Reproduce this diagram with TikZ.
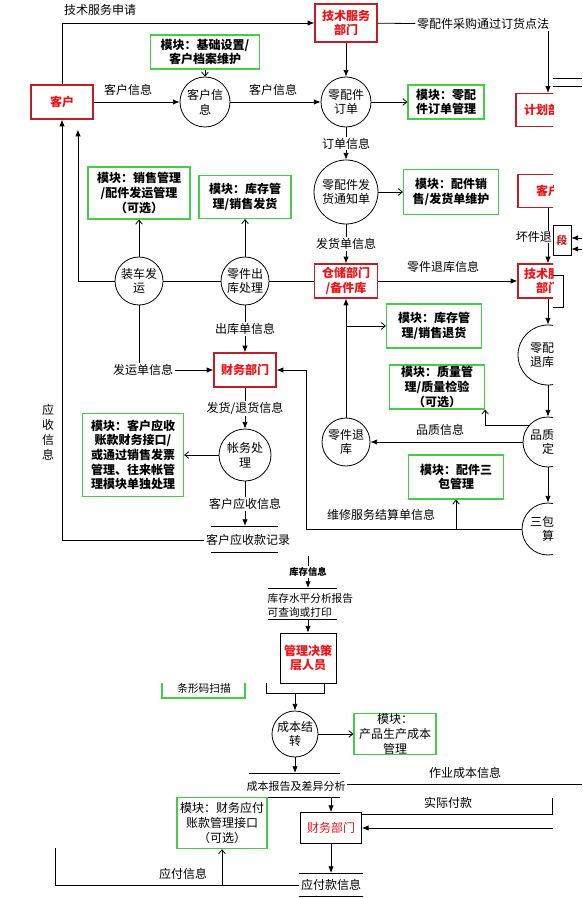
\documentclass[tikz,border=0pt]{standalone}
\usepackage{fontspec}
\setmainfont{Noto Sans CJK SC}
\usetikzlibrary{arrows.meta,calc}
\definecolor{deptred}{RGB}{190,30,40}
\definecolor{txtred}{RGB}{235,20,25}
\definecolor{modgreen}{RGB}{70,205,70}
\newcommand{\flowfont}{\fontsize{9pt}{11pt}\selectfont}
\newcommand{\smallflow}{\fontsize{8pt}{10.5pt}\selectfont}

\begin{document}
\begin{tikzpicture}[x=0.75pt,y=-0.75pt,line width=0.6pt,
  every node/.style={font=\flowfont,inner sep=1pt},
  dept/.style={draw=deptred,line width=0.9pt,text=txtred,align=center,
    font=\flowfont\bfseries,inner sep=0pt},
  mgr/.style={draw=black,line width=0.6pt,text=txtred,align=center,inner sep=0pt},
  module/.style={draw=modgreen,line width=0.9pt,align=center,
    font=\flowfont\bfseries,inner sep=0pt},
  plainmod/.style={module,font=\flowfont},
  proc/.style={circle,draw,line width=0.6pt,align=center,inner sep=0pt},
  lbl/.style={fill=white,inner sep=1pt},
  arrow/.style={-{Latex[length=5pt,width=4pt]}},
  modarrow/.style={-{Straight Barb[length=3pt,width=5pt]}}
]
\useasboundingbox (0,0) rectangle (582,898);

% right column, cut at the edge
\begin{scope}
\clip (0,0) rectangle (553,898);
\node[dept,minimum width=48pt,minimum height=24.75pt] (plan) at (548,110) {计划部门};
\node[dept,minimum width=45pt,minimum height=24.75pt] (custB) at (548,191) {客户};
\node[dept,minimum width=45pt,minimum height=25.5pt] (techB) at (548,281) {技术服务\\部门};
\node[proc,minimum size=45pt,align=left] (cRetB) at (548,355) {零配件\\退库};
\node[proc,minimum size=37.5pt] (cQual) at (548,442) {品质鉴\\定};
\node[proc,minimum size=39pt] (cWarr) at (548,529) {三包结\\算};
\draw[arrow] (custB) -- (techB);
\node[lbl,anchor=east,inner sep=0.5pt] (badLbl) at (553,237) {坏件退};
\draw[arrow] (techB) -- (cRetB);
\draw[arrow] (cRetB) -- (cQual);
\draw[arrow] (cQual) -- (cWarr);
\end{scope}
\draw (553,78) -- (582,78);
\draw (553,86) -- (582,86);
\node[draw,minimum width=13.5pt,minimum height=22.5pt,text=deptred,
  font=\smallflow\bfseries] (seg) at (562,240) {段};
\coordinate (segInA) at (582,238);
\coordinate (segInB) at (582,249);
\draw[arrow] (segInA) -- (segInA -| seg.east);
\draw[arrow] (segInB) -- (segInB -| seg.east);
\draw (553,275) -- (563,275) -- (563,307) -- (553,307);

% top rows
\node[dept,minimum width=46.5pt,minimum height=28.5pt] (techA) at (346,23) {技术服务\\部门};
\node[dept,minimum width=46.5pt,minimum height=25.5pt] (custA) at (62,102) {客户};
\node[module,minimum width=81.75pt,minimum height=25.5pt] (modBase) at (205,52) {模块：基础设置/\\客户档案维护};
\node[proc,minimum size=37.5pt] (cInfo) at (205,102) {客户信\\息};
\node[proc,minimum size=37.5pt] (cOrder) at (346,102) {零配件\\订单};
\node[module,minimum width=57pt,minimum height=25.5pt] (modOrder) at (446,102) {模块：零配\\件订单管理};
\node (purch) at (483,24) {零配件采购通过订货点法};
\node (reqLbl) at (100,10) {技术服务申请};
\node (infoLblA) at (128,90) {客户信息};
\node (infoLblB) at (273,90) {客户信息};
\draw[arrow] (custA.north) |- (techA.west);
\draw[arrow] (custA) -- (cInfo);
\draw[arrow] (cInfo) -- (cOrder);
\draw[modarrow] (modBase) -- (cInfo);
\draw[arrow] (techA) -- (cOrder);
\draw[modarrow] (cOrder) -- (modOrder);
\draw (techA) -- (purch);
\draw[arrow] (purch.south -| plan.north) -- (plan);

\node[proc,minimum size=48pt] (cNotice) at (346,192) {零配件发\\货通知单};
\node[module,minimum width=71.25pt,minimum height=33.75pt] (modShip) at (451,192) {模块：配件销\\售/发货单维护};
\draw[arrow] (cOrder) -- (cNotice) node[lbl,midway] {订单信息};
\draw[modarrow] (cNotice) -- (modShip);

% stock row
\node[dept,minimum width=47.25pt,minimum height=25.5pt] (store) at (346,281) {仓储部门\\/备件库};
\node[proc,minimum size=36pt] (cLoad) at (139,281) {装车发\\运};
\node[proc,minimum size=36pt] (cOut) at (245,281) {零件出\\库处理};
\node[module,minimum width=76.5pt,minimum height=39pt] (modSales) at (139,193) {模块：销售管理\\/配件发运管理\\（可选）};
\node[module,minimum width=69pt,minimum height=32.25pt] (modStock) at (245,197) {模块：库存管\\理/销售发货};
\coordinate (custIn) at (78,119);
\draw[arrow] (cNotice) -- (store) node[lbl,midway] {发货单信息};
\draw (cLoad) -- (cOut);
\draw (cOut) -- (store);
\draw[modarrow] (cLoad) -- (modSales);
\draw[modarrow] (cOut) -- (modStock);
\draw[arrow,shorten >=8pt] (cLoad) -| (custIn);
\draw[arrow] (store) -- (techB);
\node (backLbl) at (443,267) {零件退库信息};

% finance
\node[dept,minimum width=46.5pt,minimum height=25.5pt] (finA) at (245,370) {财务部门};
\node (shipInfo) at (143,370) {发运单信息};
\draw[arrow] (cOut) -- (finA) node[lbl,midway] {出库单信息};
\draw (cLoad) -- (cLoad.south |- shipInfo.north);
\draw[arrow] (shipInfo) -- (finA);
\node[proc,minimum size=39pt] (cAcct) at (245,455) {帐务处\\理};
\node[module,minimum width=75.75pt,minimum height=62.25pt] (modAR) at (133,455) {模块：客户应收\\账款财务接口/\\或通过销售发票\\管理、往来帐管\\理模块单独处理};
\draw[arrow] (finA) -- (cAcct) node[lbl,midway] {发货/退货信息};
\draw[modarrow] (cAcct) -- (modAR);
\draw (211,526) -- (278,526);
\draw (211,552) -- (278,552);
\coordinate (arTop) at (245,526);
\node (arRec) at (248,540) {客户应收款记录};
\draw[arrow] (cAcct) -- (arTop) node[lbl,midway] {客户应收信息};
\draw[arrow] (arRec.west) -| (custA.south);
\node[align=center,font=\fontsize{9pt}{11.25pt}\selectfont] (arLbl) at (48,432) {应\\收\\信\\息};

% returns and quality
\node[module,minimum width=71.25pt,minimum height=33pt] (modReturn) at (434,326) {模块：库存管\\理/销售退货};
\node[proc,minimum size=36pt] (cRet) at (346,442) {零件退\\库};
\node[module,minimum width=71.25pt,minimum height=33pt] (modQual) at (437,387) {模块：质量管\\理/质量检验\\（可选）};
\node[module,minimum width=71.25pt,minimum height=33pt] (modWarr) at (456,477) {模块：配件三\\包管理};
\draw[arrow] (cRet) -- (store);
\draw[modarrow] (store.south |- modReturn.west) -- (modReturn);
\draw[modarrow] (cQual.140) -| (modQual.south east);
\draw[arrow] (cQual) -- (cRet);
\node (qualLbl) at (440,430) {品质信息};
\coordinate (warrL) at (306,529);
\draw[arrow] (cWarr) -- (warrL) |- (finA);
\draw[modarrow] (modWarr.south |- warrL) -- (modWarr);
\node (warrLbl) at (381,515) {维修服务结算单信息};

% lower part
\coordinate (stockIn) at (308,556);
\coordinate (stockTop) at (308,588);
\coordinate (stockBot) at (308,619);
\draw[arrow] (stockIn) -- (stockTop) node[lbl,midway,font=\fontsize{7pt}{8pt}\selectfont\bfseries] {库存信息};
\draw (268,588) -- (337,588);
\draw (268,619) -- (337,619);
\node[anchor=west,align=left,font=\smallflow] (stockRep) at (266,605) {库存水平分析报告\\可查询或打印};
\node[mgr,font=\flowfont\bfseries,minimum width=42pt,minimum height=37.5pt] (mgmt) at (308,658) {管理决策\\层人员};
\draw[arrow] (stockBot) -- (mgmt);
\draw (266,683) -- (266,693) -- (324,693) -- (324,683);
\draw[modgreen,line width=0.9pt] (162,683) -- (162,698) -- (245,698) -- (245,683);
\node[font=\smallflow] (barcode) at (204,688) {条形码扫描};
\coordinate (mgmtOut) at (295,693);
\node[proc,minimum size=34.5pt] (cCost) at (295,734) {成本结\\转};
\node[plainmod,minimum width=61.5pt,minimum height=30.75pt] (modCost) at (395,734) {模块：\\产品生产成本\\管理};
\draw[arrow] (mgmtOut) -- (cCost);
\draw[modarrow] (cCost) -- (modCost);
\draw (249,773) -- (340,773);
\draw (249,797) -- (340,797);
\coordinate (costTop) at (295,773);
\coordinate (costBot) at (331,797);
\node[font=\fontsize{8.25pt}{10pt}\selectfont] (costRep) at (296,786) {成本报告及差异分析};
\draw[arrow] (cCost) -- (costTop);
\node (jobLbl) at (465,773) {作业成本信息};
\coordinate (costR) at (582,784);
\draw (costR) -- (costR -| costRep.east);
\node[mgr,minimum width=45.75pt,minimum height=23.25pt] (finB) at (331,828) {财务部门};
\draw[arrow] (costBot) -- (finB);
\node (payLbl) at (448,803) {实际付款};
\coordinate (payR) at (552,798);
\draw (payR) |- ([yshift=-1.5pt]finB.north east);
\coordinate (payIn) at (553,828);
\draw[arrow] (payIn) -- (finB);
\draw (299,873) -- (363,873);
\draw (299,896) -- (363,896);
\coordinate (apTop) at (331,873);
\node (apInfo) at (331,885) {应付款信息};
\draw[arrow] (finB) -- (apTop);
\node[plainmod,minimum width=67.5pt,minimum height=38.25pt] (modAP) at (222,823) {模块：财务应付\\账款管理接口\\（可选）};
\coordinate (apL) at (55,848);
\draw (apL) |- (apInfo.west);
\draw[modarrow] (modAP.south |- apInfo.west) -- (modAP);
\node (apLbl) at (183,874) {应付信息};
\end{tikzpicture}
\end{document}
